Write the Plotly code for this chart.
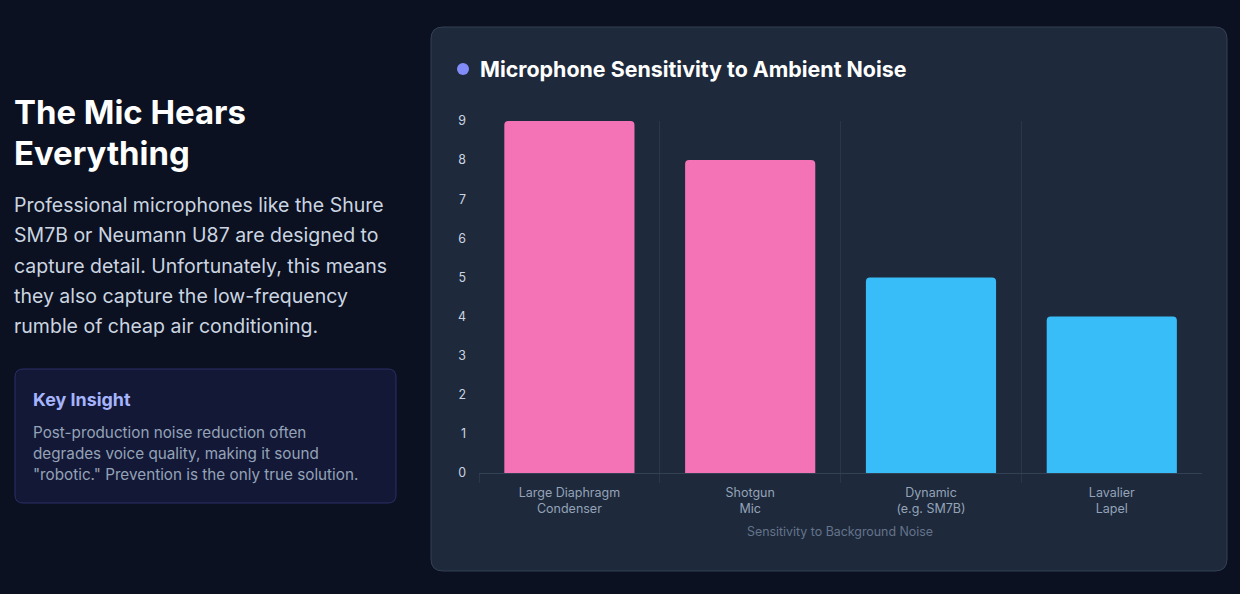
import plotly.graph_objects as go

categories = ["Large Diaphragm<br>Condenser", "Shotgun<br>Mic", "Dynamic<br>(e.g. SM7B)", "Lavalier<br>Lapel"]
sensitivity = [9, 8, 5, 4]
bar_colors = ["#f472b6", "#f472b6", "#38bdf8", "#38bdf8"]
y_ticks = [0, 1, 2, 3, 4, 5, 6, 7, 8, 9]

W, H = 1240, 594
PL, PR, PT, PB = 479, 1202, 121, 473  # plot area in pixels


def px(x):
    return (x - PL) / (PR - PL)


def py(y):
    return (PB - y) / (PB - PT)


def rounded_rect(x0, y0, x1, y1, r):
    X0, X1 = px(x0), px(x1)
    Y0, Y1 = py(y0), py(y1)
    rx = r / (PR - PL)
    ry = r / (PB - PT)
    return (f"M {X0+rx},{Y0} L {X1-rx},{Y0} Q {X1},{Y0} {X1},{Y0-ry} "
            f"L {X1},{Y1+ry} Q {X1},{Y1} {X1-rx},{Y1} L {X0+rx},{Y1} "
            f"Q {X0},{Y1} {X0},{Y1+ry} L {X0},{Y0-ry} Q {X0},{Y0} {X0+rx},{Y0} Z")


fig = go.Figure(go.Bar(
    x=categories, y=sensitivity, marker=dict(color=bar_colors, line=dict(width=0)),
    width=0.72, hoverinfo="skip",
))

shapes = [
    dict(type="path", xref="paper", yref="paper", path=rounded_rect(431, 27, 1227, 571, 12),
         fillcolor="#1e293b", line=dict(color="#334155", width=1), layer="below"),
    dict(type="path", xref="paper", yref="paper", path=rounded_rect(15, 369, 396, 503, 8),
         fillcolor="#131836", line=dict(color="#2c2e66", width=1), layer="below"),
    dict(type="circle", xref="paper", yref="paper", x0=px(457), x1=px(469), y0=py(63), y1=py(75),
         fillcolor="#818cf8", line=dict(width=0)),
]

ann = []
F = "Inter, Roboto, sans-serif"


def text(x, y, s, size, color, bold=False, xanchor="left"):
    ann.append(dict(xref="paper", yref="paper", x=px(x), y=py(y), text=(f"<b>{s}</b>" if bold else s),
                    showarrow=False, xanchor=xanchor, yanchor="middle",
                    font=dict(family=F, size=size, color=color)))


text(12, 112, "The Mic Hears", 32.9, "#ffffff", True)
text(12, 153, "Everything", 32.9, "#ffffff", True)
body = ["Professional microphones like the Shure", "SM7B or Neumann U87 are designed to",
        "capture detail. Unfortunately, this means", "they also capture the low-frequency",
        "rumble of cheap air conditioning."]
for i, line in enumerate(body):
    text(12, 205 + 30.3 * i, line, 19.5, "#cbd5e1")
text(31, 399, "Key Insight", 17.9, "#a5b4fc", True)
insight = ["Post-production noise reduction often", "degrades voice quality, making it sound",
           "\"robotic.\" Prevention is the only true solution."]
for i, line in enumerate(insight):
    text(31, 432 + 21 * i, line, 15.25, "#94a3b8")
text(478, 69, "Microphone Sensitivity to Ambient Noise", 21.4, "#ffffff", True)
text(840, 531, "Sensitivity to Background Noise", 12.4, "#64748b", xanchor="center")

fig.update_layout(
    width=W, height=H,
    margin=dict(l=PL, r=W - PR, t=PT, b=H - PB, pad=0),
    paper_bgcolor="#0b1120", plot_bgcolor="rgba(0,0,0,0)",
    showlegend=False, shapes=shapes, annotations=ann,
    barcornerradius=4,
    font=dict(family=F),
    xaxis=dict(range=[-0.5, 3.499], tickson="boundaries", showgrid=True, gridcolor="#2b3648", gridwidth=1,
               ticks="outside", ticklen=9, tickcolor="#2b3648", showline=True, linecolor="#334155",
               ticklabelstandoff=8,
               tickfont=dict(size=12.5, color="#94a3b8", family=F), zeroline=False, fixedrange=True),
    yaxis=dict(range=[0, 9], tickvals=y_ticks, showgrid=False, zeroline=False, showline=False,
               ticklabelstandoff=12, tickfont=dict(size=12.4, color="#cbd5e1", family=F), fixedrange=True),
)

fig.write_html("out.html", config={"displayModeBar": False})
